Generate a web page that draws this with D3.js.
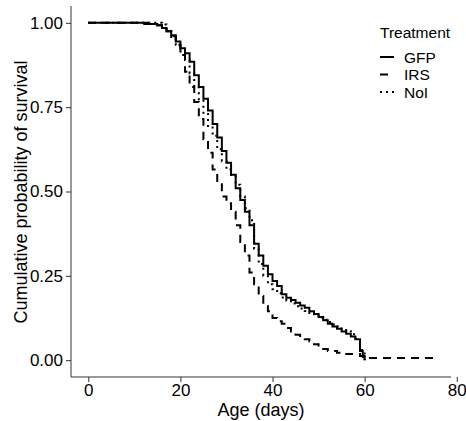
<!DOCTYPE html>
<html>
<head>
<meta charset="utf-8">
<script src="https://cdn.jsdelivr.net/npm/d3@7"></script>
<style>
body { margin: 0; background: #fff; }
svg text { font-family: "Liberation Sans", Arial, sans-serif; fill: #000; }
</style>
</head>
<body>
<div id="chart"></div>
<script>
// survival steps (day, cumulative probability)
var gfpDays = [0,13,15,16,17,18,19,20,21,22,23,24,25,26,27,28,29,30,31,32,33,34,35,36,37,38,39,40,41,42,43,44,45,46,47,48,49,50,51,52,53,54,55,56,57,58,59,59.6,60];
var gfpSurv = [1,0.997,0.993,0.985,0.975,0.963,0.945,0.925,0.91,0.885,0.845,0.81,0.775,0.74,0.70,0.66,0.62,0.585,0.55,0.51,0.475,0.44,0.40,0.345,0.31,0.28,0.255,0.235,0.22,0.195,0.185,0.178,0.17,0.162,0.155,0.145,0.137,0.128,0.118,0.108,0.10,0.093,0.085,0.078,0.07,0.062,0.027,0.009,0];

var irsDays = [0,11,14,16,17,18,19,20,21,22,23,24,25,26,27,28,29,30,31,32,33,34,35,36,37,38,39,40,41,42,43,44,45,46,47,48,49,50,51,52,54,56,59,60,75];
var irsSurv = [1,0.997,0.993,0.985,0.975,0.96,0.935,0.905,0.855,0.81,0.765,0.715,0.655,0.615,0.565,0.525,0.485,0.465,0.44,0.40,0.35,0.31,0.26,0.225,0.19,0.16,0.145,0.125,0.115,0.108,0.095,0.085,0.075,0.068,0.062,0.056,0.047,0.04,0.033,0.027,0.022,0.018,0.012,0.006,0.006];

var noiDays = [0,16,17,18,19,20,21,22,23,24,25,26,27,28,29,30,31,32,33,34,35,36,37,38,39,40,41,42,43,44,45,46,47,48,49,50,51,52,53,54,55,56,57,58,59,60];
var noiSurv = [1,0.995,0.98,0.955,0.935,0.915,0.89,0.85,0.81,0.77,0.73,0.69,0.665,0.625,0.59,0.565,0.545,0.52,0.485,0.45,0.415,0.33,0.285,0.25,0.225,0.21,0.198,0.186,0.177,0.168,0.16,0.153,0.146,0.14,0.133,0.126,0.12,0.113,0.106,0.1,0.093,0.086,0.077,0.06,0.03,0];

var treatments = ["GFP", "IRS", "NoI"];
var xTicks = [0, 20, 40, 60, 80];
var yTicks = [0, 0.25, 0.5, 0.75, 1];

var dashes = {GFP: null, IRS: "8,6", NoI: "2,4"};

var series = [
  {name: "GFP", days: gfpDays, surv: gfpSurv},
  {name: "IRS", days: irsDays, surv: irsSurv},
  {name: "NoI", days: noiDays, surv: noiSurv}
];

var margin = {top: 6, right: 15, bottom: 44, left: 71},
    width = 466 - margin.left - margin.right,
    height = 421 - margin.top - margin.bottom;

var svg = d3.select("#chart")
  .append("svg")
  .attr("width", 466)
  .attr("height", 421)
  .append("g")
  .attr("transform", "translate(" + margin.left + "," + margin.top + ")");

var x = d3.scaleLinear()
  .domain([-3.75, 78.75])
  .range([0, 380]);

var y = d3.scaleLinear()
  .domain([-0.05, 1.05])
  .range([371, 0]);

var xAxis = svg.append("g")
  .attr("transform", "translate(0," + 371 + ")")
  .call(d3.axisBottom(x).tickValues(xTicks).tickSize(5).tickPadding(2));
xAxis.select(".domain").attr("d", "M0,0H" + width);

var yAxis = svg.append("g")
  .call(d3.axisLeft(y).tickValues(yTicks).tickFormat(d3.format(".2f")).tickSize(5).tickPadding(3));
yAxis.select(".domain").attr("d", "M0,0V371");

svg.selectAll(".domain, .tick line").attr("stroke", "#333").attr("stroke-width", 1);
svg.selectAll(".tick text").style("font-size", "17px").attr("fill", "#000");

var line = d3.line()
  .x(function(d) { return x(d[0]); })
  .y(function(d) { return y(d[1]); })
  .curve(d3.curveStepAfter);

svg.selectAll(".curve")
  .data(series)
  .enter()
  .append("path")
  .attr("class", "curve")
  .attr("d", function(s) { return line(d3.zip(s.days, s.surv)); })
  .attr("fill", "none")
  .attr("stroke", "#000")
  .attr("stroke-width", 2)
  .attr("stroke-dasharray", function(s) { return dashes[s.name]; });

// axis titles
svg.append("text")
  .attr("x", 190)
  .attr("y", 416 - margin.top)
  .attr("text-anchor", "middle")
  .style("font-size", "18px")
  .text("Age (days)");

svg.append("text")
  .attr("transform", "translate(" + (27 - margin.left) + "," + (192 - margin.top) + ")rotate(-90)")
  .attr("text-anchor", "middle")
  .style("font-size", "18px")
  .text("Cumulative probability of survival");

// legend
var legend = svg.append("g")
  .attr("transform", "translate(" + (380 - margin.left) + "," + (38 - margin.top) + ")");

legend.append("text")
  .style("font-size", "15.5px")
  .text("Treatment");

var keys = legend.selectAll(".key")
  .data(treatments)
  .enter()
  .append("g")
  .attr("transform", function(d, i) { return "translate(0," + (19 + i * 17.5) + ")"; });

keys.append("line")
  .attr("x1", 0).attr("x2", 14)
  .attr("stroke", "#000")
  .attr("stroke-width", 2)
  .attr("stroke-dasharray", function(d) { return dashes[d]; });

keys.append("text")
  .attr("x", 24)
  .attr("y", 5.5)
  .style("font-size", "15.5px")
  .text(function(d) { return d; });
</script>
</body>
</html>
